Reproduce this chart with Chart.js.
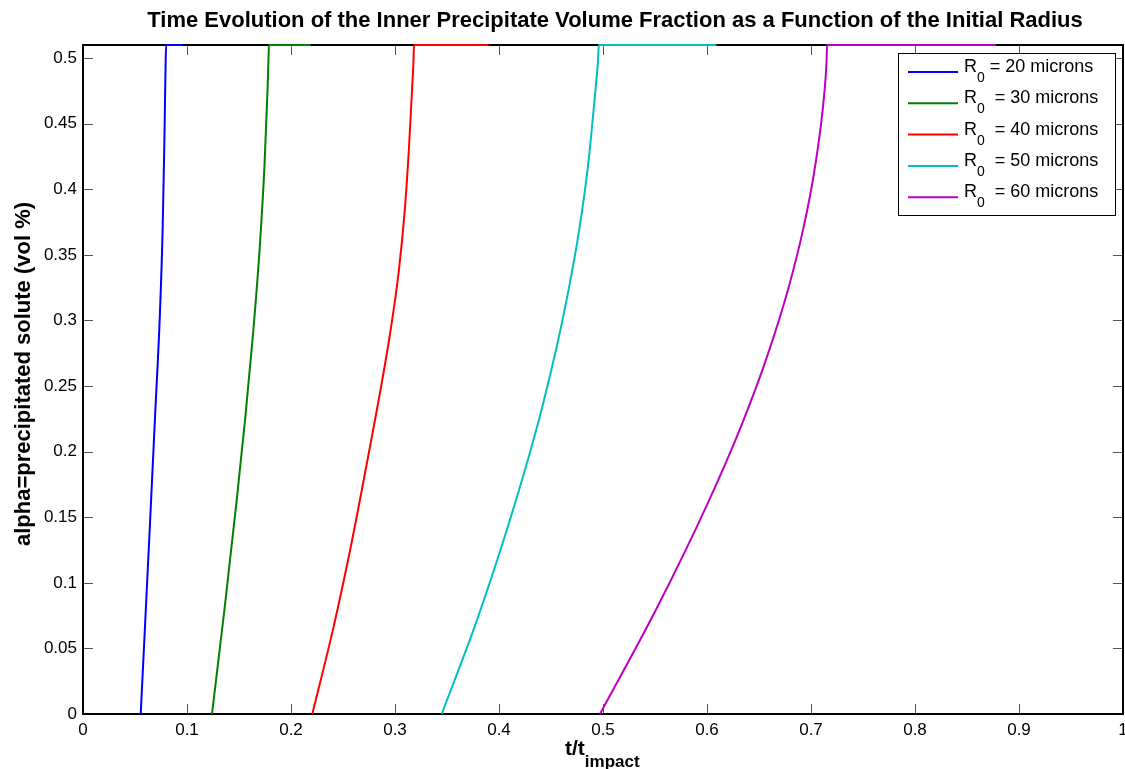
<!DOCTYPE html>
<html>
<head>
<meta charset="utf-8">
<script src="https://cdn.jsdelivr.net/npm/chart.js@4.4.1/dist/chart.umd.min.js"></script>
<style>
  body { margin: 0; background: #fff; }
  #wrap { width: 1125px; height: 769px; }
</style>
</head>
<body>
<div id="wrap"><canvas id="c" width="1125" height="769"></canvas></div>
<script>
// t / t_impact and alpha, one pair of arrays per radius
const r20t = [0.0555, 0.0644, 0.0692, 0.074, 0.0766, 0.0782, 0.0795, 0.0800, 0.096];
const r20a = [0, 0.145, 0.2255, 0.306, 0.370, 0.434, 0.4985, 0.51, 0.51];
const r30t = [0.124, 0.1362, 0.1475, 0.156, 0.1635, 0.1698, 0.1745, 0.1776, 0.1783, 0.1788, 0.219];
const r30a = [0, 0.081, 0.161, 0.2255, 0.2897, 0.354, 0.418, 0.479, 0.4985, 0.51, 0.51];
const r40t = [0.2205, 0.2405, 0.2571, 0.2727, 0.2833, 0.2952, 0.3037, 0.3096, 0.3136, 0.3166, 0.3178, 0.3182, 0.390];
const r40a = [0, 0.0649, 0.126, 0.19, 0.235, 0.2897, 0.338, 0.386, 0.434, 0.479, 0.4985, 0.51, 0.51];
const r50t = [0.3449, 0.3758, 0.4018, 0.4264, 0.4419, 0.4555, 0.4673, 0.4773, 0.4856, 0.4916, 0.4952, 0.4960, 0.609];
const r50a = [0, 0.0649, 0.126, 0.190, 0.235, 0.280, 0.325, 0.370, 0.418, 0.466, 0.4985, 0.51, 0.51];
const r60t = [0.4971, 0.5519, 0.6009, 0.6341, 0.6584, 0.6784, 0.6926, 0.7022, 0.7097, 0.7141, 0.715, 0.7155, 0.878];
const r60a = [0, 0.081, 0.161, 0.222, 0.274, 0.325, 0.370, 0.409, 0.450, 0.4857, 0.4985, 0.51, 0.51];

const radii = ['20', '30', '40', '50', '60'];
const legendText = ['= 20 microns', ' = 30 microns', ' = 40 microns', ' = 50 microns', ' = 60 microns'];
const colors = ['#0000ff', '#008000', '#ff0000', '#00bfbf', '#bf00bf'];
const seriesT = [r20t, r30t, r40t, r50t, r60t];
const seriesA = [r20a, r30a, r40a, r50a, r60a];

const xTicks = [0, 0.1, 0.2, 0.3, 0.4, 0.5, 0.6, 0.7, 0.8, 0.9, 1];
const yTicks = [0, 0.05, 0.1, 0.15, 0.2, 0.25, 0.3, 0.35, 0.4, 0.45, 0.5];

const FONT = '"Liberation Sans", Arial, Helvetica, sans-serif';
Chart.defaults.font.family = FONT;
Chart.defaults.color = '#000';

function fmt(v) {
    return String(parseFloat(v.toFixed(2)));
}

// frame, inward ticks, titles and the legend, MATLAB style
const matlabLook = {
    id: 'matlabLook',
    beforeDatasetsDraw(chart) {
        const ctx = chart.ctx;
        const a = chart.chartArea;
        const xs = chart.scales.x, ys = chart.scales.y;
        ctx.save();
        ctx.strokeStyle = '#555';
        ctx.lineWidth = 1;
        ctx.beginPath();
        xTicks.forEach(v => {
            const px = Math.round(xs.getPixelForValue(v)) + 0.5;
            ctx.moveTo(px, a.bottom); ctx.lineTo(px, a.bottom - 10);
            ctx.moveTo(px, a.top); ctx.lineTo(px, a.top + 10);
        });
        yTicks.forEach(v => {
            const py = Math.round(ys.getPixelForValue(v)) + 0.5;
            ctx.moveTo(a.left, py); ctx.lineTo(a.left + 10, py);
            ctx.moveTo(a.right, py); ctx.lineTo(a.right - 10, py);
        });
        ctx.stroke();
        ctx.strokeStyle = '#000';
        ctx.lineWidth = 2;
        ctx.strokeRect(a.left, a.top, a.right - a.left, a.bottom - a.top);
        ctx.restore();
    },
    afterDraw(chart) {
        const ctx = chart.ctx;
        ctx.save();
        ctx.fillStyle = '#000';
        ctx.textBaseline = 'alphabetic';

        // title
        ctx.font = 'bold 22px ' + FONT;
        ctx.textAlign = 'center';
        ctx.fillText('Time Evolution of the Inner Precipitate Volume Fraction as a Function of the Initial Radius', 615, 27);

        // x axis title with subscript
        ctx.textAlign = 'left';
        ctx.font = 'bold 21px ' + FONT;
        ctx.fillText('t/t', 565, 755);
        const wMain = ctx.measureText('t/t').width;
        ctx.font = 'bold 17px ' + FONT;
        ctx.fillText('impact', 565 + wMain, 767);

        // y axis title
        ctx.save();
        ctx.translate(30, 374);
        ctx.rotate(-Math.PI / 2);
        ctx.textAlign = 'center';
        ctx.font = 'bold 22px ' + FONT;
        ctx.fillText('alpha=precipitated solute (vol %)', 0, 0);
        ctx.restore();

        // legend
        const lx = 898, ly = 53, lw = 217, lh = 162;
        ctx.fillStyle = '#fff';
        ctx.fillRect(lx, ly, lw, lh);
        ctx.strokeStyle = '#000';
        ctx.lineWidth = 1;
        ctx.strokeRect(lx + 0.5, ly + 0.5, lw, lh);
        chart.data.datasets.forEach((ds, i) => {
            const y = 72 + i * 31.3;
            ctx.strokeStyle = ds.borderColor;
            ctx.lineWidth = 2;
            ctx.beginPath();
            ctx.moveTo(908, y); ctx.lineTo(958, y);
            ctx.stroke();
            ctx.fillStyle = '#000';
            ctx.textAlign = 'left';
            ctx.font = '18px ' + FONT;
            ctx.fillText('R', 964, y);
            const wR = ctx.measureText('R').width;
            ctx.font = '14px ' + FONT;
            ctx.fillText('0', 964 + wR, y + 10);
            const w0 = ctx.measureText('0').width;
            ctx.font = '18px ' + FONT;
            ctx.fillText(legendText[i], 964 + wR + w0 + 5, y);
        });
        ctx.restore();
    }
};

const datasets = radii.map((r, i) => ({
    label: 'R0 = ' + r + ' microns',
    data: seriesT[i].map((t, j) => ({ x: t, y: seriesA[i][j] })),
    borderColor: colors[i],
    backgroundColor: colors[i],
    borderWidth: 2,
    pointRadius: 0,
    cubicInterpolationMode: 'monotone',
    clip: 4
}));

new Chart(document.getElementById('c').getContext('2d'), {
    type: 'line',
    data: { datasets: datasets },
    options: {
        responsive: false,
        animation: false,
        devicePixelRatio: 1,
        layout: { padding: { top: 45, right: 2, left: 0, bottom: 0 } },
        plugins: {
            legend: { display: false },
            title: { display: false },
            tooltip: { enabled: false }
        },
        scales: {
            x: {
                type: 'linear',
                min: 0,
                max: 1,
                grid: { display: false, drawTicks: false },
                border: { display: false },
                ticks: {
                    stepSize: 0.1,
                    padding: 6,
                    font: { size: 17 },
                    color: '#000',
                    maxRotation: 0,
                    autoSkip: false,
                    callback: v => fmt(v)
                },
                afterFit: s => { s.height = 55; s.paddingLeft = 0; s.paddingRight = 0; }
            },
            y: {
                type: 'linear',
                min: 0,
                max: 0.51,
                grid: { display: false, drawTicks: false },
                border: { display: false },
                ticks: {
                    stepSize: 0.05,
                    includeBounds: false,
                    padding: 6,
                    font: { size: 17 },
                    color: '#000',
                    autoSkip: false,
                    callback: v => fmt(v)
                },
                afterFit: s => { s.width = 83; s.paddingTop = 0; s.paddingBottom = 0; }
            }
        }
    },
    plugins: [matlabLook]
});
</script>
</body>
</html>
